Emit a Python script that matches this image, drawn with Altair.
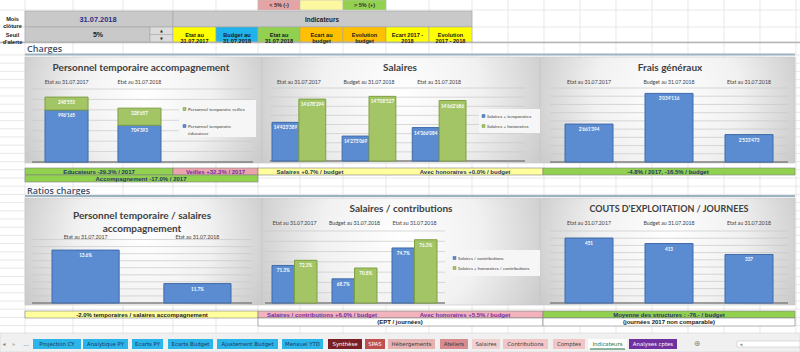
import altair as alt
import numpy as np
import pandas as pd

# ---------------- data ----------------
PT_CATS = ["Etat au 31.07.2017", "Etat au 31.07.2018"]
PT_SERIES = ["Personnel temporaire veilles", "Personnel temporaire éducateur"]
PT_VEILLES = [248553, 328657]
PT_EDUC = [996165, 704393]

SAL_CATS = ["Etat au 31.07.2017", "Budget au 31.07.2018", "Etat au 31.07.2018"]
SAL_SERIES = ["Salaires + temporaires", "Salaires + honoraires"]
SAL_TEMP = [14423389, 14273069, 14366084]
SAL_HON = [14678294, 14708527, 14662686]

FG_CATS = ["Etat au 31.07.2017", "Budget au 31.07.2018", "Etat au 31.07.2018"]
FG_VALUES = [2661394, 3034116, 2533473]

RPT_CATS = ["Etat au 31.07.2017", "Etat au 31.07.2018"]
RPT_VALUES = [13.6, 11.7]

SC_CATS = ["Etat au 31.07.2017", "Budget au 31.07.2018", "Etat au 31.07.2018"]
SC_SERIES = ["Salaires / contributions", "Salaires + honoraires / contributions"]
SC_SAL = [71.3, 68.7, 74.7]
SC_HON = [72.3, 70.8, 76.3]

CJ_CATS = ["Etat au 31.07.2017", "Budget au 31.07.2018", "Etat au 31.07.2018"]
CJ_VALUES = [451, 413, 337]

TITLES = ["Personnel temporaire accompagnement", "Salaires", "Frais généraux",
          "Personnel temporaire / salaires\naccompagnement", "Salaires / contributions",
          "COUTS D'EXPLOITATION / JOURNEES"]

NOTES_ROW1 = ["Educateurs -29.3% / 2017", "Veilles +32.3% / 2017", "Salaires +0.7% / budget",
              "Avec honoraires +0.0% / budget", "-4.8% / 2017, -16.5% / budget",
              "Accompagnement -17.0% / 2017"]
NOTES_ROW2 = ["-2.0% temporaires / salaires accompagnement", "Salaires / contributions +6.0% / budget",
              "Avec honoraires +5.5% / budget", "Moyenne des structures : -76.- / budget",
              "(EPT / journées)", "(journées 2017 non comparable)"]

HEADER_COLS = ["Etat au\n31.07.2017", "Budget au\n31.07.2018", "Etat au\n31.07.2018", "Ecart au\nbudget",
               "Evolution\nbudget", "Ecart 2017 -\n2018", "Evolution\n2017 - 2018"]
TAB_NAMES = ["Projection CY", "Analytique PY", "Ecarts PY", "Ecarts Budget", "Ajustement Budget",
             "Mensuel YTD", "Synthèse", "SPAS", "Hébergements", "Ateliers", "Salaires",
             "Contributions", "Comptes", "Indicateurs", "Analyses cptes"]

# ---------------- styles ----------------
BLUE, BLUE_D = "#5b8bd0", "#3f6aa8"
GREEN, GREEN_D = "#a3c565", "#7f9f44"
TXT = "#404040"
NAVY = "#1f3864"
PURPLE = "#7030a0"
CH_FONT = "Lato"
CELL_FONT = "Liberation Sans"

SX = alt.Scale(domain=[0, 800], range=[0, 800], nice=False, zero=False)
SY = alt.Scale(domain=[0, 352], range=[0, 352], nice=False, zero=False)


def rects(rows, **mk):
    df = pd.DataFrame(rows, columns=["x0", "x1", "y0", "y1", "f", "s"])
    return alt.Chart(df).mark_rect(**mk).encode(
        x=alt.X("x0:Q", scale=SX, axis=None), x2="x1:Q",
        y=alt.Y("y0:Q", scale=SY, axis=None), y2="y1:Q",
        fill=alt.Fill("f:N", scale=None), stroke=alt.Stroke("s:N", scale=None))


def rules(rows, **mk):
    df = pd.DataFrame(rows, columns=["x0", "x1", "y0", "y1"])
    return alt.Chart(df).mark_rule(**mk).encode(
        x=alt.X("x0:Q", scale=SX, axis=None), x2="x1:Q",
        y=alt.Y("y0:Q", scale=SY, axis=None), y2="y1:Q")


def texts(rows, **mk):
    df = pd.DataFrame(rows, columns=["x", "y", "t", "s", "c"])
    return alt.Chart(df).mark_text(lineBreak="\n", **mk).encode(
        x=alt.X("x:Q", scale=SX, axis=None), y=alt.Y("y:Q", scale=SY, axis=None),
        text="t:N", size=alt.Size("s:Q", scale=None), color=alt.Color("c:N", scale=None))


def fmt_ch(v):
    return f"{v:,}".replace(",", "'")


layers = []

# ---------- spreadsheet grid ----------
COLS = [25, 73, 123, 173, 216, 258, 300, 343, 386, 429, 472, 508, 544, 580, 616, 652, 688, 724, 760, 796]
ROWS = [10, 27, 42, 55] + list(np.arange(63.2, 333, 8.2))
layers.append(rules([(c, c, 0, 333) for c in COLS] + [(0, 800, r, r) for r in ROWS],
                    color="#dedede", strokeWidth=0.7))

# ---------- header ----------
hdr = [(258, 300, 0, 10, "#e6a3a3", "#bdbdbd"), (300, 343, 0, 10, "#fbf8a0", "#bdbdbd"),
       (343, 386, 0, 10, "#92d050", "#bdbdbd"),
       (25, 173, 11, 27, "#c9c9c9", "#a6a6a6"), (25, 150, 27, 42, "#c9c9c9", "#a6a6a6"),
       (150, 173, 27, 34.5, "#dcdcdc", "#a6a6a6"), (150, 173, 34.5, 42, "#dcdcdc", "#a6a6a6"),
       (173, 472, 11, 27, "#c9c9c9", "#a6a6a6")]
hcol_fill = ["#ffff00", "#1fb3ea", "#92d050", "#ffc000", "#ffc000", "#ffff00", "#ffff00"]
hcol_x = [173, 216, 258, 300, 343, 386, 429, 472]
for i, f in enumerate(hcol_fill):
    hdr.append((hcol_x[i], hcol_x[i + 1], 27, 42, f, "#a6a6a6"))
layers.append(rects(hdr, strokeWidth=0.6))
layers.append(rules([(0, 800, 42.5, 42.5)], color="#b5b5b5", strokeWidth=1.6))

htxt = [(279, 5, "< 5% (-)", 5.5, "#333333"), (364.5, 5, "> 5% (+)", 5.5, "#333333"),
        (12.5, 19, "Mois\nclôture", 5.6, "#222222"), (12.5, 35, "Seuil\nd'alerte", 5.6, "#222222"),
        (322, 19.5, "Indicateurs", 6.4, "#222222"), (98, 35, "5%", 7, "#222222")]
for i, t in enumerate(HEADER_COLS):
    htxt.append(((hcol_x[i] + hcol_x[i + 1]) / 2, 34.7, t, 5.6, "#1a1a1a"))
layers.append(texts(htxt, font=CELL_FONT, fontWeight="bold", lineHeight=6.6))
layers.append(texts([(98, 19.5, "31.07.2018", 7.4, "#2b2f8a")], font=CELL_FONT, fontWeight="bold"))
layers.append(texts([(161.5, 31, "▲", 3.8, "#333333"), (161.5, 38.5, "▼", 3.8, "#333333")],
                    font="DejaVu Sans"))

# ---------- section labels ----------
layers.append(texts([(27, 48.5, "Charges", 9, "#3b4d6b"), (27, 190.5, "Ratios charges", 9, "#3b4d6b")],
                    font="Open Sans", fontWeight=600, align="left"))
layers.append(rules([(25, 795, 54.5, 54.5), (25, 795, 196, 196)], color="#9bb2bf", strokeWidth=2))

# ---------- chart backgrounds ----------
BG = {"gradient": "radial", "x1": 0.5, "y1": 0.45, "x2": 0.5, "y2": 0.45, "r1": 0, "r2": 0.72,
      "stops": [{"offset": 0, "color": "#ffffff"}, {"offset": 0.4, "color": "#f1f1f1"},
                {"offset": 1, "color": "#b3b3b3"}]}
panels = [(25, 262, 57, 163), (262, 540, 57, 163), (540, 795, 57, 163),
          (25, 262, 198, 305), (262, 540, 198, 305), (540, 795, 198, 305)]
layers.append(alt.Chart(pd.DataFrame(panels, columns=["x0", "x1", "y0", "y1"]))
              .mark_rect(fill=BG, stroke="#c8c8c8", strokeWidth=0.6)
              .encode(x=alt.X("x0:Q", scale=SX, axis=None), x2="x1:Q",
                      y=alt.Y("y0:Q", scale=SY, axis=None), y2="y1:Q"))

# ---------- titles ----------
title_pos = [(141, 68), (400, 68), (670, 68), (142, 216), (401, 209), (669, 209)]
trows = []
for (x, y), t in zip(title_pos, TITLES):
    trows.append((x, y, t, 9 if t.isupper() else 10, TXT))
layers.append(texts(trows, font=CH_FONT, fontWeight="bold", lineHeight=13))


# ---------- panel helpers ----------
def grid(ys, vals, base, x0, x1):
    g = alt.Chart(pd.DataFrame({"g": vals})).mark_rule(color="#c8c8c8", strokeWidth=0.7).encode(
        y=alt.Y("g:Q", scale=ys, axis=None), x=alt.value(x0), x2=alt.value(x1))
    b = alt.Chart(pd.DataFrame({"g": [base]})).mark_rule(color="#808080", strokeWidth=1.6).encode(
        y=alt.Y("g:Q", scale=ys, axis=None), x=alt.value(x0), x2=alt.value(x1))
    return [g, b]


def cat_labels(cats, xs, y):
    return alt.Chart(pd.DataFrame({"cat": cats})).mark_text(fontSize=5.2, color=TXT, font=CH_FONT).encode(
        x=alt.X("cat:N", scale=xs, axis=None), y=alt.value(y), text="cat:N")


LAB = dict(color="white", fontSize=4.6, fontWeight="bold", baseline="top", dy=3, font=CH_FONT)


def band(cats, x0, x1, pi):
    return alt.Scale(type="band", domain=cats, range=[x0, x1], paddingInner=pi, paddingOuter=0)


def sub_band(cats, x0, x1, pi, s, nser):
    """band scale for series s inside groups spanning [x0, x1] with inner padding pi"""
    n = len(cats)
    step = (x1 - x0) / (n - pi)
    w = step * (1 - pi) / nser
    return alt.Scale(type="band", domain=cats, range=[x0 + s * w, x1 - (nser - 1 - s) * w],
                     paddingInner=1 - w / step, paddingOuter=0)


def single_panel(cats, vals, labels, xs, ys, base):
    df = pd.DataFrame({"cat": cats, "v": vals, "base": base, "lab": labels})
    enc = dict(x=alt.X("cat:N", scale=xs, axis=None), y=alt.Y("v:Q", scale=ys, axis=None))
    bars = alt.Chart(df).mark_bar(color=BLUE, stroke=BLUE_D, strokeWidth=1).encode(y2="base:Q", **enc)
    lab = alt.Chart(df).mark_text(**LAB).encode(text="lab:N", **enc)
    return [bars, lab]


def grouped_panel(cats, v1, v2, labfun, x0, x1, pi, ys, base):
    bars, labs = [], []
    for s, (vals, col, cold) in enumerate([(v1, BLUE, BLUE_D), (v2, GREEN, GREEN_D)]):
        df = pd.DataFrame({"cat": cats, "v": vals, "base": base, "lab": [labfun(v) for v in vals]})
        enc = dict(x=alt.X("cat:N", scale=sub_band(cats, x0, x1, pi, s, 2), axis=None),
                   y=alt.Y("v:Q", scale=ys, axis=None))
        bars.append(alt.Chart(df).mark_bar(color=col, stroke=cold, strokeWidth=1).encode(y2="base:Q", **enc))
        labs.append(alt.Chart(df).mark_text(**LAB).encode(text="lab:N", **enc))
    return bars + labs


# ---------- panel 1: stacked ----------
xs1 = band(PT_CATS, 45, 161, 0.41)
ys1 = alt.Scale(domain=[0, 1400000], range=[162, 89], nice=False, zero=False)
layers += grid(ys1, list(range(200000, 1400001, 200000)), 0, 32, 253)
rows1 = []
for i, c in enumerate(PT_CATS):
    rows1.append((c, PT_SERIES[1], PT_EDUC[i], 0, fmt_ch(PT_EDUC[i])))
    rows1.append((c, PT_SERIES[0], PT_VEILLES[i], 1, fmt_ch(PT_VEILLES[i])))
df1 = pd.DataFrame(rows1, columns=["cat", "ser", "v", "order", "lab"])
st = alt.Chart(df1).transform_stack(stack="v", groupby=["cat"], as_=["v0", "v1"],
                                    sort=[alt.SortField("order", order="ascending")])
enc1 = dict(x=alt.X("cat:N", scale=xs1, axis=None), y=alt.Y("v1:Q", scale=ys1, axis=None))
layers.append(st.mark_bar(strokeWidth=1).encode(
    y2="v0:Q",
    fill=alt.Fill("ser:N", scale=alt.Scale(domain=PT_SERIES, range=[GREEN, BLUE]), legend=None),
    stroke=alt.Stroke("ser:N", scale=alt.Scale(domain=PT_SERIES, range=[GREEN_D, BLUE_D]), legend=None),
    **enc1))
layers.append(st.mark_text(**LAB).encode(text="lab:N", **enc1))
layers.append(cat_labels(PT_CATS, xs1, 82))

# ---------- panel 2: Salaires ----------
ys2 = alt.Scale(domain=[14000000, 14800000], range=[161, 88], nice=False, zero=False)
layers += grid(ys2, list(range(14100000, 14800001, 100000)), 14000000, 270, 525)
layers += grouped_panel(SAL_CATS, SAL_TEMP, SAL_HON, fmt_ch, 272, 466, 0.234, ys2, 14000000)
layers.append(cat_labels(SAL_CATS, band(SAL_CATS, 272, 466, 0.234), 82))

# ---------- panel 3: Frais généraux ----------
xs3 = band(FG_CATS, 565, 773, 0.4)
ys3 = alt.Scale(domain=[2200000, 3100000], range=[162, 88], nice=False, zero=False)
layers += grid(ys3, list(range(2300000, 3100001, 100000)), 2200000, 550, 788)
layers += single_panel(FG_CATS, FG_VALUES, [fmt_ch(v) for v in FG_VALUES], xs3, ys3, 2200000)
layers.append(cat_labels(FG_CATS, xs3, 82))

# ---------- panel 4: ratio personnel temporaire ----------
xs4 = band(RPT_CATS, 52, 231, 0.4)
ys4 = alt.Scale(domain=[10.6, 14.4], range=[303, 236], nice=False, zero=False)
layers += grid(ys4, [11.0, 11.4, 11.8, 12.2, 12.6, 13.0, 13.4, 13.8, 14.2], 10.6, 32, 252)
layers += single_panel(RPT_CATS, RPT_VALUES, [f"{v:.1f}%" for v in RPT_VALUES], xs4, ys4, 10.6)
layers.append(cat_labels(RPT_CATS, xs4, 237))

# ---------- panel 5: salaires / contributions ----------
ys5 = alt.Scale(domain=[64, 78], range=[303, 231], nice=False, zero=False)
layers += grid(ys5, [66, 68, 70, 72, 74, 76, 78], 64, 265, 445)
layers += grouped_panel(SC_CATS, SC_SAL, SC_HON, lambda v: f"{v:.1f}%", 272, 437, 0.25, ys5, 64)
layers.append(cat_labels(SC_CATS, band(SC_CATS, 272, 437, 0.25), 223))

# ---------- panel 6: couts / journees ----------
xs6 = band(CJ_CATS, 565, 773, 0.4)
ys6 = alt.Scale(domain=[0, 500], range=[303, 231], nice=False, zero=False)
layers += grid(ys6, list(range(50, 501, 50)), 0, 550, 788)
layers += single_panel(CJ_CATS, CJ_VALUES, [str(v) for v in CJ_VALUES], xs6, ys6, 0)
layers.append(cat_labels(CJ_CATS, xs6, 223))

# ---------- legends ----------
layers.append(rects([(179, 256, 100, 137, "#f6f6f6", "transparent"),
                     (479, 540, 109, 133, "#f6f6f6", "transparent"),
                     (450, 540, 250, 276, "#f6f6f6", "transparent")]))
layers.append(rects([(183, 186, 107.5, 110.5, GREEN, GREEN_D), (183, 186, 124.5, 127.5, BLUE, BLUE_D),
                     (482, 485, 114.5, 117.5, BLUE, BLUE_D), (482, 485, 124.5, 127.5, GREEN, GREEN_D),
                     (453, 456, 256.5, 259.5, BLUE, BLUE_D), (453, 456, 266.5, 269.5, GREEN, GREEN_D)],
                    strokeWidth=0.5))
layers.append(texts([(188, 109, PT_SERIES[0], 4.6, TXT),
                     (188, 126, "Personnel temporaire\néducateur", 4.6, TXT),
                     (487, 116, SAL_SERIES[0], 4.6, TXT), (487, 126, SAL_SERIES[1], 4.6, TXT),
                     (458, 258, SC_SERIES[0], 4.5, TXT), (458, 268, SC_SERIES[1], 4.5, TXT)],
                    font=CH_FONT, align="left", baseline="top", dy=-2.5, lineHeight=7))

# ---------- note bars ----------
G, Y, P1, P2, W = "#92d050", "#ffff9e", "#eba4ab", "#f3b3bd", "#ffffff"
layers.append(rects([(25, 173, 168, 175, G, "#7f7f7f"), (173, 258, 168, 175, P1, "#7f7f7f"),
                     (258, 543, 168, 175, Y, "#7f7f7f"), (543, 795, 168, 175, G, "#7f7f7f"),
                     (25, 258, 175, 182, G, "#7f7f7f"),
                     (25, 258, 311, 318, Y, "#7f7f7f"), (258, 543, 311, 318, P2, "#7f7f7f"),
                     (543, 795, 311, 318, G, "#7f7f7f"),
                     (258, 543, 318, 326, W, "#7f7f7f"), (543, 795, 318, 326, W, "#7f7f7f")],
                    strokeWidth=0.6))
n1_pos = [(99, 171.7, NAVY), (215.5, 171.7, PURPLE), (310, 171.7, NAVY), (465, 171.7, NAVY),
          (668, 171.7, NAVY), (141, 178.7, NAVY)]
n2_pos = [(142, 314.7, "#1a1a1a"), (322, 314.7, PURPLE), (465, 314.7, PURPLE), (669, 314.7, NAVY),
          (400, 322.2, "#1a1a1a"), (669, 322.2, "#1a1a1a")]
nrows = [(x, y, t, 6, c) for (x, y, c), t in zip(n1_pos, NOTES_ROW1)]
nrows += [(x, y, t, 6, c) for (x, y, c), t in zip(n2_pos, NOTES_ROW2)]
layers.append(texts(nrows, font=CELL_FONT, fontWeight="bold"))

# ---------- tab bar ----------
CY = "#2cb5e8"
tab_geo = [(33, 81, CY, NAVY), (83, 128, CY, NAVY), (132, 163, CY, NAVY), (168, 213, CY, NAVY),
           (217, 278, CY, NAVY), (282, 323, CY, NAVY), (328, 362, "#7a1f24", "white"),
           (365, 385, "#c0504d", "white"), (388, 435, "#e6b3b3", "#3a3a3a"),
           (440, 468, "#d98c8f", "#3a3a3a"), (472, 500, "#f2d0d0", "#3a3a3a"),
           (503, 548, "#f2c6c6", "#3a3a3a"), (553, 585, "#f2c6c6", "#3a3a3a"),
           (588, 627, "#ffffff", "#217346"), (629, 677, "#7030a0", "white")]
layers.append(rects([(0, 800, 333, 352, "#f0f0f0", "#d4d4d4")], strokeWidth=0.6))
layers.append(rects([(a, b, 339, 349, f, "transparent") for a, b, f, _ in tab_geo]
                    + [(737, 800, 341, 347, "#ffffff", "#c8c8c8")], strokeWidth=0.6))
layers.append(rules([(590, 625, 349, 349)], color="#217346", strokeWidth=1.2))
tab_txt = [((a + b) / 2, 344.3, n, 5.4, c) for (a, b, _, c), n in zip(tab_geo, TAB_NAMES)]
tab_txt += [(4, 344, "◂", 6, "#888888"), (14, 344, "▸", 6, "#bbbbbb"), (26, 344, "...", 6, "#666666"),
            (697, 344, "⊕", 8, "#888888"), (741, 344, "◂", 5, "#888888")]
layers.append(texts(tab_txt, font="DejaVu Sans"))

chart = alt.layer(*layers).resolve_scale(
    x="independent", y="independent", fill="independent",
    stroke="independent", color="independent", size="independent"
).properties(
    width=800, height=352, autosize=alt.AutoSizeParams(type="none"), padding=0, background="white"
).configure_view(strokeWidth=0)

chart.save("out.html", embed_options={"renderer": "svg", "actions": False})
